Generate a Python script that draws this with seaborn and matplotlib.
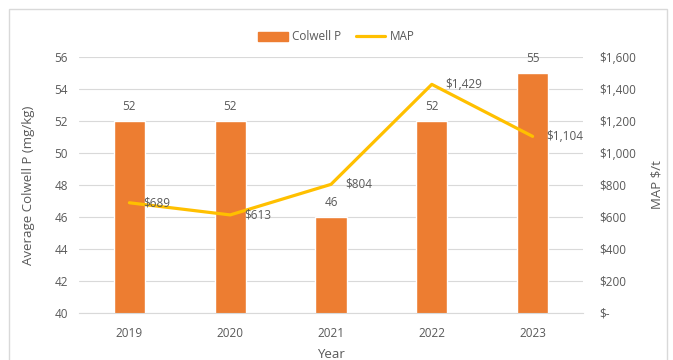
import matplotlib
matplotlib.use("Agg")
import matplotlib.pyplot as plt
import seaborn as sns
import pandas as pd
from matplotlib.patches import Rectangle
from matplotlib.lines import Line2D
from matplotlib.ticker import FuncFormatter

# data
years = ["2019", "2020", "2021", "2022", "2023"]
colwell_p = [52, 52, 46, 52, 55]
map_price = [689, 613, 804, 1429, 1104]

sns.set_style("white")
plt.rcParams['font.family'] = ['Open Sans', 'DejaVu Sans']
grey = "#595959"
bar_col = "#ED7D31"
line_col = "#FFC000"

df = pd.DataFrame({"Year": years, "Colwell P": colwell_p, "MAP": map_price})

fig = plt.figure(figsize=(6.73, 3.6), dpi=100)
ax = fig.add_axes([79/673, 1 - 313/360, 504/673, 256/360])

sns.barplot(data=df, x="Year", y="Colwell P", color=bar_col, width=0.31,
            saturation=1, ax=ax)
ax.set_ylim(40, 56)
ax.set_yticks(range(40, 57, 2))
ax.yaxis.grid(True, color="#D9D9D9", lw=0.8)
ax.set_axisbelow(True)
for s in ax.spines.values():
    s.set_visible(False)
ax.spines["bottom"].set_visible(True)
ax.spines["bottom"].set_color("#D9D9D9")
ax.tick_params(colors=grey, labelsize=8.5, length=0)
ax.tick_params(axis="x", pad=10)
ax.tick_params(axis="y", pad=8)
ax.set_xlabel("Year", color=grey, fontsize=9.5, labelpad=6)
ax.set_ylabel("Average Colwell P (mg/kg)", color=grey, fontsize=9.5, labelpad=14)
for c in ax.containers:
    ax.bar_label(c, padding=6, color=grey, fontsize=8.5)

ax2 = ax.twinx()
sns.pointplot(data=df, x="Year", y="MAP", color=line_col, markers="",
              linewidth=2.3, ax=ax2)
ax2.set_ylim(0, 1600)
ax2.set_yticks(range(0, 1601, 200))
ax2.yaxis.set_major_formatter(FuncFormatter(lambda v, p: "$-" if v == 0 else f"${v:,.0f}"))
for s in ax2.spines.values():
    s.set_visible(False)
ax2.tick_params(colors=grey, labelsize=8.5, length=0, pad=12)
ax2.set_ylabel("MAP $/t", color=grey, fontsize=9.5, labelpad=10)
ax2.set_xlabel("")
for i, v in enumerate(map_price):
    ax2.annotate(f"${v:,}", (i, v), xytext=(10, 0), textcoords="offset points",
                 color=grey, fontsize=8.5, va="center", ha="left")

handles = [Rectangle((0, 0), 1, 1, color=bar_col),
           Line2D([0], [0], color=line_col, lw=2.3)]
fig.legend(handles, ["Colwell P", "MAP"], loc="center", bbox_to_anchor=(0.5, 1 - 37/360),
           ncol=2, frameon=False, fontsize=8.5, labelcolor=grey, handlelength=2.5,
           columnspacing=1.2, handletextpad=0.4)

# chart border
fig.patches.append(Rectangle((9/673, -0.05), 658/673, 1 - 9/360 + 0.05,
                             transform=fig.transFigure, fill=False,
                             edgecolor="#D9D9D9", lw=1))

fig.savefig("out.png", dpi=100)
